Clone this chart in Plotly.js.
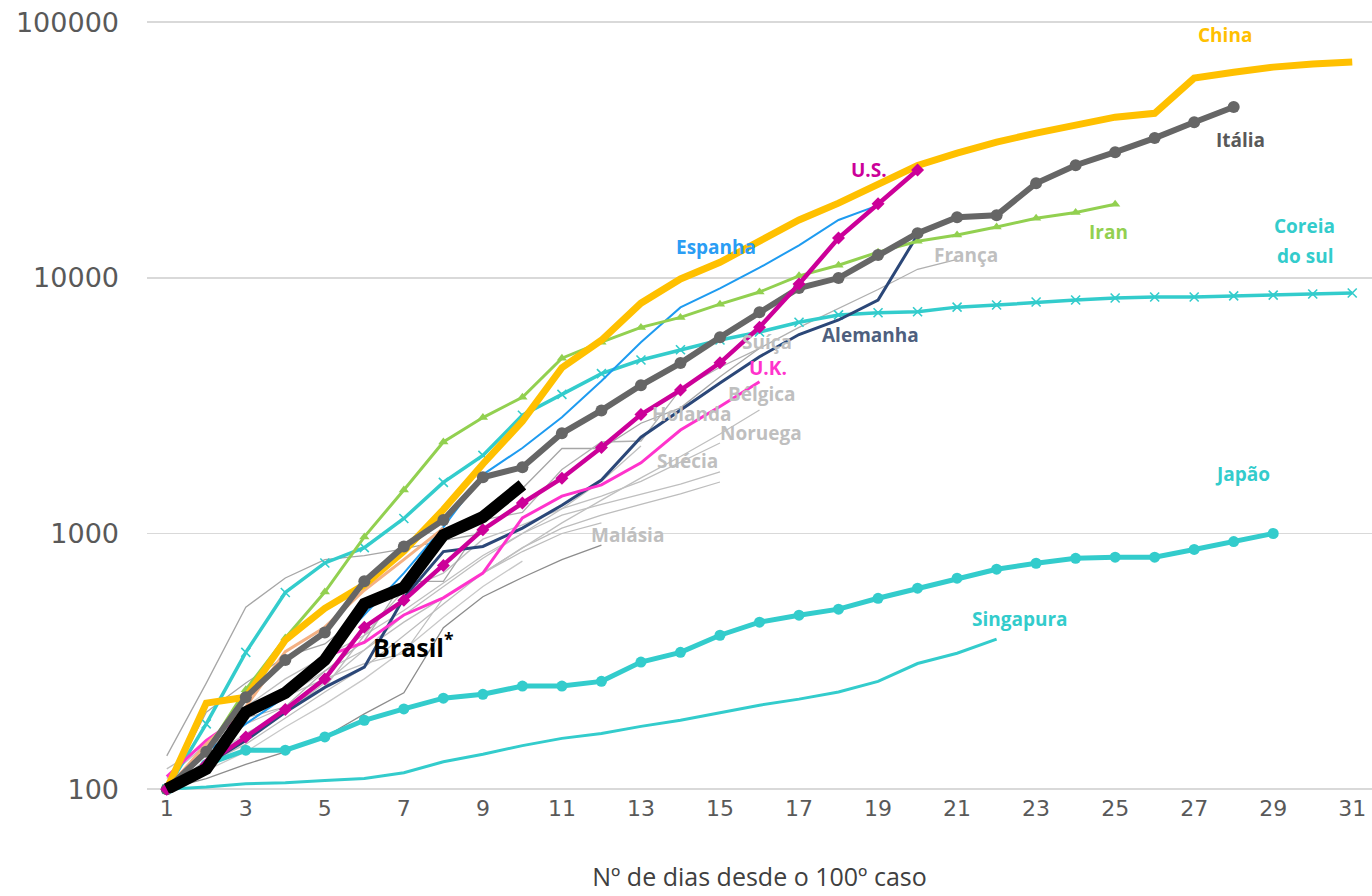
<!DOCTYPE html>
<html>
<head>
<meta charset="utf-8">
<script src="https://cdn.plot.ly/plotly-3.0.1.min.js"></script>
<style>html,body{margin:0;padding:0;background:#fff;}#chart{width:1372px;height:896px;}</style>
</head>
<body>
<div id="chart"></div>
<script>
// Dias desde o 100º caso
const days = [1,2,3,4,5,6,7,8,9,10,11,12,13,14,15,16,17,18,19,20,21,22,23,24,25,26,27,28,29,30,31];
const xTicks = [1,3,5,7,9,11,13,15,17,19,21,23,25,27,29,31];
const yTicks = [100,1000,10000,100000];
const yTickText = ['100','1000','10000','100000'];

// Casos acumulados
const china = [100,217,229,383,510,630,852,1240,1870,2750,4450,5700,7960,9900,11500,13900,16840,19600,23100,27500,30760,33970,36800,39560,42500,44000,60400,63700,66700,68600,69800];
const italia = [100,140,229,320,410,650,890,1130,1660,1815,2465,3030,3800,4640,5860,7340,9120,9980,12270,14950,17270,17580,23440,27560,31000,35200,40600,46600];
const iran = [100,140,245,390,590,970,1480,2280,2840,3410,4850,5600,6400,7000,7890,8800,10180,11200,12600,13900,14700,15800,17100,18000,19400];
const coreia = [100,180,343,588,767,880,1145,1585,2020,2900,3500,4220,4770,5230,5710,6140,6700,7160,7300,7370,7680,7830,8040,8190,8340,8410,8410,8500,8560,8640,8720];
const japao = [100,125,142,142,160,186,206,227,235,253,253,264,314,343,400,450,479,506,558,611,669,725,765,800,808,808,866,930,1000];
const singapura = [100,102,105,106,108,110,116,128,137,148,158,165,176,186,199,213,225,240,264,310,340,386];
const eua = [100,125,160,205,270,430,548,750,1035,1315,1645,2170,2920,3640,4650,6410,9460,14300,19500,26400];
const espanha = [100,140,180,230,330,480,700,1060,1700,2160,2850,3950,5600,7660,9100,10950,13400,16840,19200];
const alemanha = [100,125,155,200,250,300,560,850,890,1050,1290,1617,2380,3040,3880,4910,6000,6840,8190,14700];
const uk = [112,155,198,244,330,375,480,560,700,1150,1400,1550,1890,2540,3140,3920];
const brasil = [100,120,200,238,320,530,615,985,1160,1550];
const laranjaClaro = [100,150,210,345,430,600,790,1050];
const franca = [100,130,190,210,290,380,650,950,1130,1210,1780,2280,2300,3660,4470,5300,6400,7600,9000,10800,11800];
const suica = [100,200,260,330,370,490,650,650,1100,1500,2150,2150,2700,3100,4100,5300];
const belgica = [105,140,180,230,270,310,340,560,700,880,1100,1350,1650,2000,2450,3040];
const holanda = [110,150,210,270,330,400,500,640,820,1000,1250,1600,2200];
const noruega = [100,145,180,210,250,400,600,700,950,1080,1250,1400,1600,1900,2260];
const suecia = [100,130,165,200,260,350,480,620,800,1000,1180,1300,1420,1560,1740];
const malasia = [100,110,125,140,160,197,238,428,566,673,790,900];
const outro1 = [100,125,150,190,240,300,400,530,700,880,1050,1180,1300,1430,1590];
const outro2 = [135,260,515,670,790,820,870,940,1000];
const outro3 = [120,150,180,230,290,350,450,560,700,850,1000,1100];
const outro4 = [100,118,140,175,215,270,350,470,620,780];

function tr(vals, color, width, marker) {
  const t = {
    x: days.slice(0, vals.length), y: vals, type: 'scatter',
    mode: marker ? 'lines+markers' : 'lines',
    line: {color: color, width: width, shape: 'linear'},
    hoverinfo: 'skip', cliponaxis: false
  };
  if (marker) t.marker = marker;
  return t;
}

const G = '#BFBFBF';
const traces = [
  tr(outro4, '#C8C8C8', 1.3),
  tr(outro3, '#BDBDBD', 1.3),
  tr(outro1, '#BDBDBD', 1.3),
  tr(outro2, '#A6A6A6', 1.3),
  tr(malasia, '#8C8C8C', 1.3),
  tr(suecia, G, 1.3),
  tr(noruega, G, 1.3),
  tr(holanda, G, 1.3),
  tr(belgica, G, 1.3),
  tr(suica, '#A6A6A6', 1.3),
  tr(franca, '#B0B0B0', 1.3),
  tr(singapura, '#33CCCC', 3),
  tr(japao, '#33CCCC', 5, {symbol: 'circle', size: 11, color: '#33CCCC'}),
  tr(coreia, '#33CCCC', 3.5, {symbol: 'x-thin', size: 9, color: '#33CCCC', line: {width: 1.6, color: '#33CCCC'}}),
  tr(alemanha, '#2B4778', 3),
  tr(espanha, '#1E9BF0', 2),
  tr(uk, '#FF33CC', 3),
  tr(laranjaClaro, '#F4B183', 3),
  tr(iran, '#92D050', 3, {symbol: 'triangle-up', size: 9, color: '#92D050'}),
  tr(china, '#FFC000', 7),
  tr(italia, '#666666', 6, {symbol: 'circle', size: 12, color: '#666666'}),
  tr(eua, '#CC0099', 4.5, {symbol: 'diamond', size: 10, color: '#CC0099'}),
  tr(brasil, '#000000', 12)
];

function lab(text, x, y, color, size) {
  return {text: '<b>' + text + '</b>', x: x, y: y, xref: 'x', yref: 'y',
    showarrow: false, xanchor: 'center', yanchor: 'middle',
    font: {family: 'Open Sans', size: size || 19, color: color}};
}

const annotations = [
  lab('China', 27.78, 4.949, '#FFC000'),
  lab('Itália', 28.16, 4.538, '#595959'),
  lab('U.S.', 18.77, 4.421, '#CC0099'),
  lab('Espanha', 14.90, 4.120, '#2A9DF4'),
  lab('Iran', 24.82, 4.179, '#92D050'),
  lab('França', 21.22, 4.089, G),
  lab('Coreia', 29.80, 4.202, '#33CCCC'),
  lab('do sul', 29.80, 4.085, '#33CCCC'),
  lab('Alemanha', 18.82, 3.776, '#4E5F7E'),
  lab('Suíça', 16.19, 3.748, G),
  lab('U.K.', 16.22, 3.647, '#FF33CC'),
  lab('Bélgica', 16.06, 3.545, G),
  lab('Holanda', 14.29, 3.467, G),
  lab('Noruega', 16.04, 3.392, G),
  lab('Suécia', 14.19, 3.283, G),
  lab('Malásia', 12.65, 2.993, G),
  lab('Japão', 28.23, 3.232, '#33CCCC'),
  lab('Singapura', 22.59, 2.665, '#33CCCC'),
  lab('Brasil<sup>*</sup>', 7.22, 2.563, '#000000', 25)
];

const layout = {
  width: 1372, height: 896,
  margin: {l: 147, r: 0, t: 21, b: 103},
  paper_bgcolor: '#ffffff', plot_bgcolor: '#ffffff',
  showlegend: false,
  xaxis: {
    range: [0.5, 31.5], tickvals: xTicks, ticktext: xTicks.map(String),
    showgrid: false, zeroline: false, showline: false, ticks: '',
    tickfont: {family: 'DejaVu Sans', size: 22, color: '#595959'},
    title: {text: 'Nº de dias desde o 100º caso', standoff: 48,
      font: {family: 'Open Sans', size: 25, color: '#404040'}}
  },
  yaxis: {
    type: 'log', range: [1.985, 5.0045], tickvals: yTicks, ticktext: yTickText,
    showgrid: true, gridcolor: '#D9D9D9', gridwidth: 1.5,
    zeroline: false, showline: false, ticks: '', ticklabelstandoff: 27,
    tickfont: {family: 'DejaVu Sans', size: 27, color: '#595959'}
  },
  annotations: annotations
};

Plotly.newPlot('chart', traces, layout, {displayModeBar: false, staticPlot: true});
</script>
</body>
</html>
